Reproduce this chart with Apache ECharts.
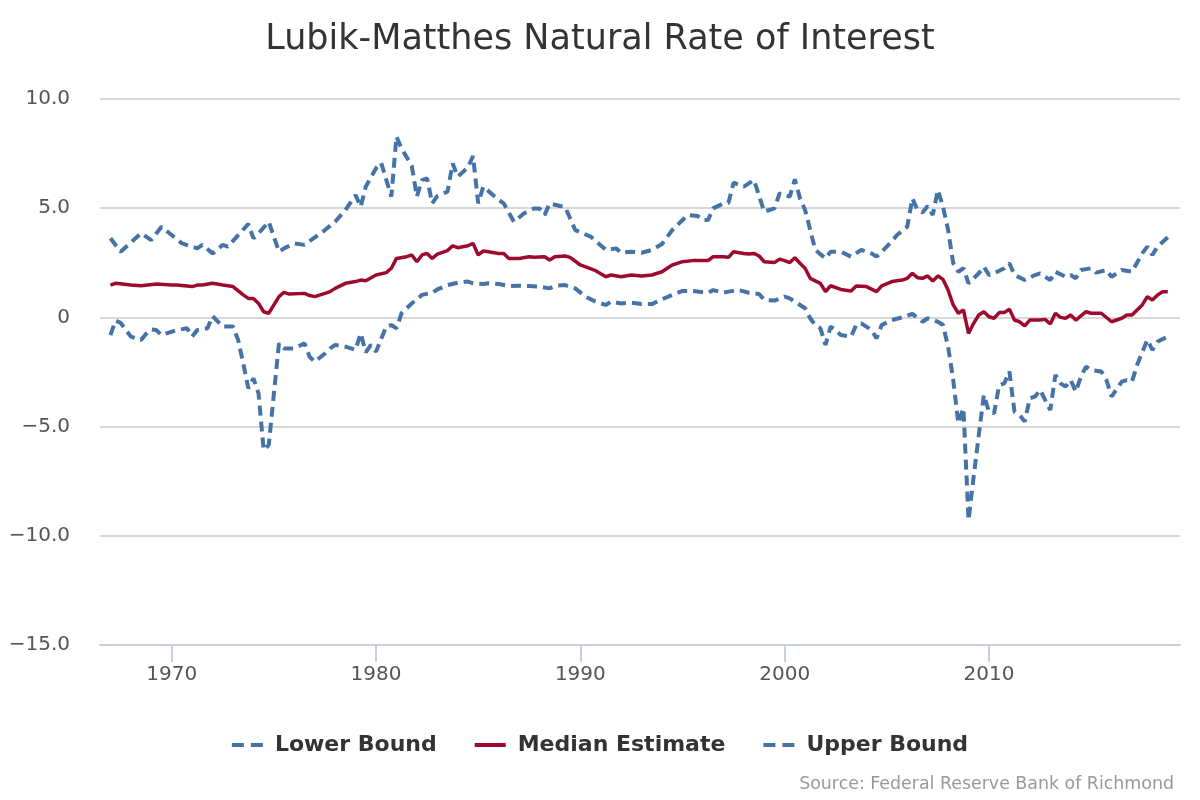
<!DOCTYPE html>
<html>
<head>
<meta charset="utf-8">
<script src="https://cdn.jsdelivr.net/npm/echarts@6/dist/echarts.min.js"></script>
<style>html,body{margin:0;padding:0;background:#fff}#c{width:1200px;height:800px}</style>
</head>
<body>
<div id="c"></div>
<script>
const titleText = 'Lubik-Matthes Natural Rate of Interest';
const sourceText = 'Source: Federal Reserve Bank of Richmond';
const seriesNames = ['Lower Bound', 'Median Estimate', 'Upper Bound'];
const xTickYears = [1970, 1980, 1990, 2000, 2010];
const yTicks = [-15, -10, -5, 0, 5, 10];

const upperYears = [1967.00,1967.50,1968.50,1969.00,1969.50,1970.50,1971.00,1971.25,1971.50,1972.00,1972.50,1972.75,1973.75,1974.00,1974.25,1974.75,1975.25,1975.50,1976.00,1976.50,1977.50,1978.00,1978.50,1979.00,1979.25,1979.50,1980.00,1980.25,1980.75,1981.00,1981.25,1981.75,1982.00,1982.25,1982.50,1982.75,1983.00,1983.50,1983.75,1984.00,1984.50,1984.75,1985.00,1985.25,1986.00,1986.25,1986.75,1987.25,1987.75,1988.00,1988.25,1988.50,1989.00,1989.25,1989.75,1990.50,1991.25,1991.75,1992.00,1992.50,1993.00,1993.50,1994.00,1994.50,1995.00,1995.25,1995.75,1996.00,1996.25,1996.50,1997.00,1997.25,1997.50,1998.00,1998.50,1999.00,1999.50,1999.75,2000.25,2000.50,2000.75,2001.00,2001.50,2002.00,2002.25,2002.75,2003.25,2003.75,2004.25,2004.50,2005.00,2005.50,2006.00,2006.25,2006.50,2006.75,2007.00,2007.25,2007.50,2007.75,2008.00,2008.25,2008.50,2008.75,2009.00,2009.50,2009.75,2010.00,2010.25,2010.75,2011.00,2011.25,2011.75,2012.25,2012.50,2012.75,2013.00,2013.25,2013.75,2014.00,2014.25,2014.50,2015.00,2015.25,2015.75,2016.00,2016.50,2017.00,2017.50,2017.75,2018.00,2018.25,2018.75];
const upperValues = [3.62,3.01,3.85,3.54,4.15,3.39,3.24,3.16,3.32,2.93,3.32,3.24,4.28,3.62,3.85,4.38,3.01,3.16,3.39,3.32,4.00,4.38,4.92,5.60,5.07,5.99,6.83,7.08,5.53,8.28,7.74,6.93,5.53,6.29,6.37,5.22,5.56,5.76,7.05,6.44,6.87,7.39,5.22,5.99,5.38,5.22,4.38,4.77,4.99,4.99,4.69,5.22,5.10,5.07,4.00,3.70,3.09,3.16,2.96,3.01,2.96,3.09,3.36,4.00,4.46,4.69,4.64,4.46,4.46,4.99,5.22,5.25,6.17,5.99,6.29,4.84,4.99,5.68,5.53,6.32,5.45,4.92,3.09,2.70,3.01,3.01,2.78,3.09,2.93,2.78,3.24,3.77,4.15,5.45,4.92,4.80,5.10,4.69,5.83,5.07,4.00,2.48,2.09,2.25,1.56,2.02,2.32,1.94,2.02,2.25,2.48,1.94,1.71,1.94,2.02,1.86,1.71,2.09,1.86,1.94,1.79,2.17,2.25,2.05,2.17,1.86,2.17,2.09,2.93,3.24,2.86,3.24,3.67];

const medianYears = [1967.00,1967.25,1968.00,1968.50,1969.25,1970.00,1970.25,1971.00,1971.25,1971.50,1972.00,1972.50,1973.00,1973.50,1973.75,1974.00,1974.25,1974.50,1974.75,1975.00,1975.25,1975.50,1975.75,1976.50,1976.75,1977.00,1977.50,1977.75,1978.00,1978.50,1979.00,1979.25,1979.50,1980.00,1980.50,1980.75,1981.00,1981.50,1981.75,1982.00,1982.25,1982.50,1982.75,1983.00,1983.50,1983.75,1984.00,1984.50,1984.75,1985.00,1985.25,1985.50,1986.00,1986.25,1986.50,1987.00,1987.50,1987.75,1988.25,1988.50,1988.75,1989.25,1989.50,1990.00,1990.75,1991.25,1991.50,1992.00,1992.50,1993.00,1993.50,1994.00,1994.25,1994.50,1995.00,1995.50,1996.00,1996.25,1996.50,1997.00,1997.25,1997.50,1998.00,1998.25,1998.50,1998.75,1999.00,1999.50,1999.75,2000.00,2000.25,2000.50,2000.75,2001.00,2001.25,2001.75,2002.00,2002.25,2002.75,2003.25,2003.50,2004.00,2004.50,2004.75,2005.25,2005.75,2006.00,2006.25,2006.50,2006.75,2007.00,2007.25,2007.50,2007.75,2008.00,2008.25,2008.50,2008.75,2009.00,2009.25,2009.50,2009.75,2010.00,2010.25,2010.50,2010.75,2011.00,2011.25,2011.50,2011.75,2012.00,2012.50,2012.75,2013.00,2013.25,2013.50,2013.75,2014.00,2014.25,2014.75,2015.00,2015.50,2016.00,2016.50,2016.75,2017.00,2017.50,2017.75,2018.00,2018.25,2018.50,2018.75];
const medianValues = [1.48,1.56,1.48,1.45,1.53,1.48,1.48,1.41,1.48,1.48,1.56,1.48,1.41,1.03,0.87,0.87,0.64,0.26,0.19,0.57,0.95,1.15,1.07,1.10,1.00,0.95,1.10,1.18,1.33,1.56,1.64,1.71,1.68,1.94,2.05,2.25,2.70,2.78,2.86,2.55,2.86,2.93,2.70,2.90,3.06,3.28,3.19,3.28,3.39,2.86,3.04,3.01,2.93,2.93,2.70,2.70,2.78,2.75,2.78,2.63,2.78,2.81,2.75,2.40,2.14,1.86,1.94,1.86,1.94,1.90,1.94,2.09,2.25,2.40,2.55,2.60,2.60,2.60,2.78,2.78,2.75,3.01,2.93,2.90,2.93,2.81,2.55,2.51,2.67,2.60,2.51,2.73,2.48,2.25,1.79,1.56,1.18,1.45,1.28,1.21,1.44,1.41,1.18,1.44,1.64,1.71,1.79,2.02,1.82,1.79,1.90,1.67,1.90,1.74,1.25,0.57,0.19,0.34,-0.73,-0.27,0.11,0.26,0.03,-0.04,0.22,0.23,0.37,-0.12,-0.20,-0.39,-0.12,-0.12,-0.09,-0.30,0.19,0.00,-0.04,0.11,-0.12,0.26,0.19,0.19,-0.20,-0.04,0.11,0.11,0.57,0.95,0.80,1.03,1.18,1.18];

const lowerYears = [1967.00,1967.25,1967.50,1968.00,1968.50,1968.75,1969.00,1969.25,1969.50,1969.75,1970.25,1970.75,1971.00,1971.25,1971.75,1972.00,1972.50,1973.00,1973.25,1973.50,1973.75,1974.00,1974.25,1974.50,1974.75,1975.00,1975.25,1975.50,1976.00,1976.50,1976.75,1977.00,1977.50,1977.75,1978.00,1978.50,1979.00,1979.25,1979.50,1979.75,1980.00,1980.50,1980.75,1981.00,1981.25,1981.75,1982.25,1982.75,1983.00,1983.50,1984.00,1984.50,1984.75,1985.25,1985.50,1986.00,1986.50,1987.00,1987.50,1988.00,1988.50,1988.75,1989.25,1989.75,1990.25,1990.75,1991.25,1991.50,1992.00,1992.50,1993.00,1993.50,1994.00,1994.50,1995.00,1995.50,1996.25,1996.50,1997.00,1997.25,1997.75,1998.25,1998.75,1999.00,1999.50,2000.00,2000.25,2000.50,2001.00,2001.25,2001.50,2001.75,2002.00,2002.25,2002.50,2002.75,2003.25,2003.50,2003.75,2004.25,2004.50,2004.75,2005.25,2005.75,2006.25,2006.75,2007.00,2007.50,2007.75,2008.00,2008.25,2008.50,2008.75,2009.00,2009.25,2009.50,2009.75,2010.00,2010.25,2010.50,2010.75,2011.00,2011.25,2011.50,2011.75,2012.00,2012.25,2012.50,2012.75,2013.00,2013.25,2013.50,2013.75,2014.00,2014.25,2014.50,2014.75,2015.00,2015.50,2015.75,2016.00,2016.50,2016.75,2017.00,2017.25,2017.75,2018.00,2018.25,2018.75];
const lowerValues = [-0.81,-0.15,-0.25,-0.88,-1.03,-0.75,-0.55,-0.58,-0.81,-0.73,-0.58,-0.50,-0.88,-0.58,-0.50,0.06,-0.42,-0.42,-1.03,-2.10,-3.25,-2.79,-3.48,-6.07,-5.84,-3.50,-1.19,-1.42,-1.42,-1.19,-1.80,-2.03,-1.65,-1.42,-1.26,-1.34,-1.49,-0.73,-1.60,-1.26,-1.57,-0.42,-0.35,-0.50,0.19,0.64,1.03,1.13,1.28,1.48,1.59,1.64,1.56,1.53,1.56,1.53,1.44,1.45,1.44,1.41,1.33,1.45,1.48,1.33,0.95,0.72,0.57,0.72,0.64,0.67,0.61,0.61,0.83,1.03,1.21,1.21,1.13,1.25,1.13,1.18,1.25,1.13,1.07,0.80,0.77,0.95,0.87,0.72,0.42,-0.04,-0.35,-0.50,-1.26,-0.42,-0.58,-0.81,-0.88,-0.35,-0.27,-0.58,-0.96,-0.35,-0.12,0.00,0.16,-0.20,-0.04,-0.20,-0.35,-1.34,-2.87,-4.85,-4.16,-9.28,-7.30,-5.40,-3.55,-4.32,-4.39,-3.10,-3.02,-2.48,-4.32,-4.47,-4.77,-3.70,-3.63,-3.32,-3.78,-4.24,-2.64,-3.02,-3.17,-2.87,-3.40,-2.71,-2.26,-2.41,-2.48,-2.87,-3.63,-2.94,-2.87,-2.94,-2.18,-1.03,-1.49,-1.11,-0.88];

const zip = (xs, ys) => xs.map((x, i) => [x, ys[i]]);
const FONT = 'DejaVu Sans';
const BLUE = '#4572A7';
const RED = '#9e0a2e';
const DASH_ICON = 'path://M0,0H12V4H0Z M19,0H31V4H19Z';
const SOLID_ICON = 'path://M0,0H31V4H0Z';

const chart = echarts.init(document.getElementById('c'), null, {renderer: 'canvas'});
chart.setOption({
  animation: false,
  backgroundColor: '#ffffff',
  textStyle: {fontFamily: FONT},
  title: [
    {text: titleText, left: 'center', top: 17,
     textStyle: {fontFamily: FONT, fontSize: 35, fontWeight: 'normal', color: '#333333'}},
    {text: sourceText, right: 21, top: 771,
     textStyle: {fontFamily: FONT, fontSize: 17.4, fontWeight: 'normal', color: '#999999'}}
  ],
  legend: {
    data: [
      {name: seriesNames[0], icon: DASH_ICON},
      {name: seriesNames[1], icon: SOLID_ICON},
      {name: seriesNames[2], icon: DASH_ICON}
    ],
    left: 'center', top: 729,
    itemWidth: 31, itemHeight: 4, itemGap: 38,
    textStyle: {fontFamily: FONT, fontSize: 22, fontWeight: 'bold', color: '#333333', padding: [0, 0, 0, 7]}
  },
  grid: {left: 100, right: 20, top: 99, bottom: 155, containLabel: false},
  xAxis: {
    type: 'value', min: 1966.49, max: 2019.35,
    splitLine: {show: false},
    axisLine: {show: true, onZero: false, lineStyle: {color: '#c6d2e4', width: 2}},
    axisTick: {show: true, length: 17, customValues: xTickYears, lineStyle: {color: '#c6d2e4', width: 2}},
    axisLabel: {customValues: xTickYears, margin: 20, fontSize: 20, color: '#555555', fontFamily: FONT,
                formatter: v => String(Math.round(v))}
  },
  yAxis: {
    type: 'value', min: yTicks[0], max: yTicks[yTicks.length - 1], interval: 5,
    axisLine: {show: false}, axisTick: {show: false},
    splitLine: {lineStyle: {color: '#d8d8d8', width: 2}},
    axisLabel: {margin: 30, fontSize: 20, color: '#555555', fontFamily: FONT,
                formatter: v => v === 0 ? '0' : (v < 0 ? '\u2212' : '') + Math.abs(v).toFixed(1)}
  },
  series: [
    {name: seriesNames[0], type: 'line', data: zip(lowerYears, lowerValues), symbol: 'none',
     itemStyle: {color: BLUE}, lineStyle: {color: BLUE, width: 4, type: [10, 6]}, z: 2},
    {name: seriesNames[1], type: 'line', data: zip(medianYears, medianValues), symbol: 'none',
     itemStyle: {color: RED}, lineStyle: {color: RED, width: 3.5}, z: 3},
    {name: seriesNames[2], type: 'line', data: zip(upperYears, upperValues), symbol: 'none',
     itemStyle: {color: BLUE}, lineStyle: {color: BLUE, width: 4, type: [10, 6]}, z: 2}
  ]
});
</script>
</body>
</html>
